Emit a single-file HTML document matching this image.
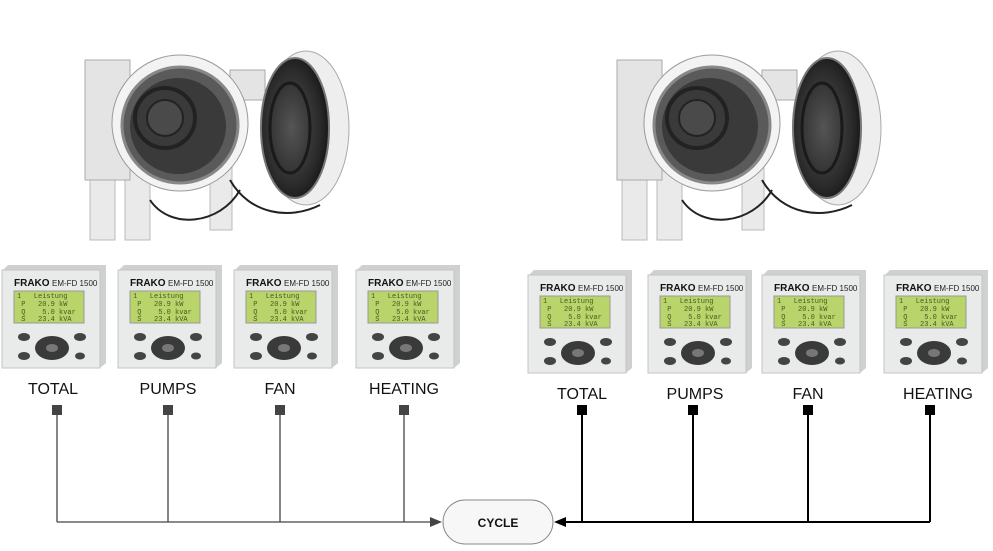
<!DOCTYPE html><html><head><style>body{margin:0;background:#fff}svg{display:block}text{white-space:pre}</style></head><body>
<svg width="993" height="551" viewBox="0 0 993 551" xmlns="http://www.w3.org/2000/svg" font-family="Liberation Sans, sans-serif">
<defs>
<radialGradient id="door" cx="0.45" cy="0.5" r="0.6"><stop offset="0" stop-color="#555"/><stop offset="0.7" stop-color="#2a2a2a"/><stop offset="1" stop-color="#111"/></radialGradient>
<g id="furn">
 <rect x="10" y="150" width="25" height="90" fill="#eaeaea" stroke="#bbb"/>
 <rect x="45" y="170" width="25" height="70" fill="#eaeaea" stroke="#bbb"/>
 <rect x="130" y="160" width="22" height="70" fill="#eaeaea" stroke="#bbb"/>
 <rect x="5" y="60" width="45" height="120" fill="#e4e4e4" stroke="#aaa"/>
 <rect x="150" y="70" width="35" height="30" fill="#e4e4e4" stroke="#aaa"/>
 <circle cx="100" cy="123" r="68" fill="#f3f3f3" stroke="#999"/>
 <circle cx="100" cy="125" r="58" fill="#5a5a5a" stroke="#888" stroke-width="3"/>
 <circle cx="98" cy="126" r="48" fill="#3a3a3a"/>
 <circle cx="85" cy="118" r="30" fill="none" stroke="#222" stroke-width="4"/>
 <circle cx="85" cy="118" r="18" fill="#4a4a4a" stroke="#222" stroke-width="2"/>
 <path d="M150,180 C170,215 210,220 240,205" fill="none" stroke="#222" stroke-width="2"/>
 <path d="M70,200 C90,230 140,225 160,190" fill="none" stroke="#222" stroke-width="2"/>
 <ellipse cx="226" cy="128" rx="43" ry="77" fill="#eee" stroke="#aaa"/>
 <ellipse cx="215" cy="128" rx="34" ry="70" fill="url(#door)" stroke="#777" stroke-width="2"/>
 <ellipse cx="210" cy="128" rx="20" ry="45" fill="none" stroke="#1a1a1a" stroke-width="3"/>
</g>
<g id="dev">
 <path d="M0,6 L6,0 L104,0 L104,98 L98,103 L0,103Z" fill="#cfd0d0"/>
 <rect x="0" y="5" width="98" height="98" fill="#e9eaea" stroke="#c4c4c4"/>
 <text x="12" y="21" font-size="10" font-weight="bold" fill="#111">FRAKO</text>
 <text x="50" y="21" font-size="8" fill="#222">EM-FD 1500</text>
 <rect x="12" y="26" width="70" height="32" fill="#b8d46a" stroke="#999"/>
 <g font-family="Liberation Mono, monospace" font-size="7" fill="#4a5a20">
 <text x="15" y="33">1   Leistung</text><text x="15" y="41"> P   20.9 kW</text><text x="15" y="49"> Q    5.0 kvar</text><text x="15" y="56"> S   23.4 kVA</text></g>
 <ellipse cx="22" cy="72" rx="6" ry="4" fill="#444"/><ellipse cx="78" cy="72" rx="6" ry="4" fill="#444"/>
 <ellipse cx="22" cy="91" rx="6" ry="4" fill="#444"/><ellipse cx="78" cy="91" rx="5" ry="3.5" fill="#444"/>
 <ellipse cx="50" cy="83" rx="17" ry="12" fill="#3a3a3a"/><ellipse cx="50" cy="83" rx="6" ry="4" fill="#777"/>
</g>
</defs>
<use href="#furn" x="80" y="0"/>
<use href="#furn" x="612" y="0"/>
<use href="#dev" x="2" y="265"/><use href="#dev" x="118" y="265"/><use href="#dev" x="234" y="265"/><use href="#dev" x="356" y="265"/>
<use href="#dev" x="528" y="270"/><use href="#dev" x="648" y="270"/><use href="#dev" x="762" y="270"/><use href="#dev" x="884" y="270"/>
<g font-size="16" fill="#111" text-anchor="middle">
<text x="53" y="394">TOTAL</text><text x="168" y="394">PUMPS</text><text x="280" y="394">FAN</text><text x="404" y="394">HEATING</text>
<text x="582" y="399">TOTAL</text><text x="695" y="399">PUMPS</text><text x="808" y="399">FAN</text><text x="938" y="399">HEATING</text></g>
<g fill="#444"><rect x="52" y="405" width="10" height="10"/><rect x="163" y="405" width="10" height="10"/><rect x="275" y="405" width="10" height="10"/><rect x="399" y="405" width="10" height="10"/></g>
<g fill="#000"><rect x="577" y="405" width="10" height="10"/><rect x="688" y="405" width="10" height="10"/><rect x="803" y="405" width="10" height="10"/><rect x="925" y="405" width="10" height="10"/></g>
<g stroke="#444" stroke-width="1.3" fill="none"><path d="M57,415V522M168,415V522M280,415V522M404,415V522M57,522H432"/></g>
<polygon points="442,522 430,517 430,527" fill="#444"/>
<g stroke="#000" stroke-width="2" fill="none"><path d="M582,415V522M693,415V522M808,415V522M930,415V522M930,522H565"/></g>
<polygon points="554,522 566,517 566,527" fill="#000"/>
<rect x="443" y="500" width="110" height="44" rx="22" fill="#f7f7f7" stroke="#888"/>
<text x="498" y="527" font-size="12" font-weight="bold" text-anchor="middle" fill="#111">CYCLE</text>
</svg></body></html>
